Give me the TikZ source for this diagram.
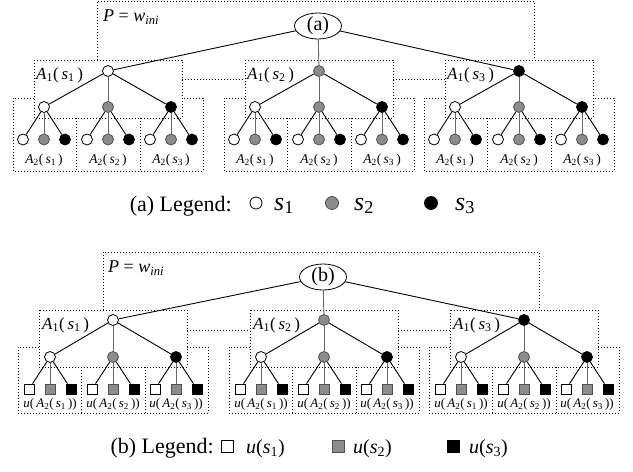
\documentclass[tikz,border=0pt]{standalone}
\usepackage{fontspec}
\setmainfont{Liberation Serif}
\usetikzlibrary{shapes.geometric}

% fills, borders and edge colours of the three states s1, s2, s3
\definecolor{col1}{RGB}{255,255,255}
\definecolor{col2}{RGB}{140,140,140}
\definecolor{col3}{RGB}{0,0,0}
\definecolor{bd1}{RGB}{0,0,0}
\definecolor{bd2}{RGB}{80,80,80}
\definecolor{bd3}{RGB}{0,0,0}
\definecolor{ln1}{RGB}{0,0,0}
\definecolor{ln2}{RGB}{105,105,105}
\definecolor{ln3}{RGB}{0,0,0}

\newcommand\lowidx[1]{\textsubscript{#1}}
\newcommand\Aone[1]{\textit{A}\lowidx{1}(\,\textit{s}\lowidx{#1}\,)}
\newcommand\Atwo[1]{\textit{A}\lowidx{2}(\,\textit{s}\lowidx{#1}\,)}
\newcommand\uAtwo[1]{\textit{u}(\,\textit{A}\lowidx{2}(\,\textit{s}\lowidx{#1}\,))}
\newcommand\Pini{\textit{P} = \textit{w}\lowidx{\textit{ini}}}

\begin{document}
\begin{tikzpicture}[x=1pt,y=-1pt,
  cnode/.style={circle, minimum size=11pt, inner sep=0pt, line width=0.8pt},
  snode/.style={rectangle, minimum size=10pt, inner sep=0pt, line width=0.9pt},
  rootnode/.style={ellipse, draw, line width=0.8pt, minimum width=47pt,
    minimum height=26pt, inner sep=0pt, font=\fontsize{20}{21}\selectfont},
  edge/.style={line width=0.9pt},
  region/.style={line width=0.9pt, dash pattern=on 0.9pt off 2.1pt},
  plabel/.style={anchor=west, inner sep=0pt, font=\fontsize{18}{20}\selectfont},
  aonelabel/.style={anchor=west, inner sep=0pt, font=\fontsize{17}{19}\selectfont},
  atwolabel/.style={inner sep=0pt, font=\fontsize{13.5}{15}\selectfont},
  ulabel/.style={inner sep=0pt, font=\fontsize{13}{15}\selectfont},
  legtext/.style={anchor=base east, inner sep=0pt, font=\fontsize{22}{24}\selectfont},
  legsym/.style={anchor=base west, inner sep=0pt, font=\fontsize{26}{28}\selectfont},
  legu/.style={anchor=base west, inner sep=0pt, font=\fontsize{20}{22}\selectfont},
]
\useasboundingbox (0,0) rectangle (633,472);

% ---------------- tree (a): circles at every level ----------------
\node[rootnode] (ra) at (318,26) {(a)};
\draw[region] (97,60) -- (97,1) -- (534,1) -- (534,60);
\draw[region] (182,79) -- (245,79);
\draw[region] (393,79) -- (445,79);
\node[plabel] (pa) at (103,17) {\Pini};

\foreach \i/\cx in {1/108,2/319,3/519}{
  % region outlines of the branch
  \draw[region] (\cx-74,60) rectangle (\cx+74,118);
  \draw[region] (\cx-74,98) -- (\cx-95,98) -- (\cx-95,171) -- (\cx+95,171)
                -- (\cx+95,98) -- (\cx+74,98);
  \draw[region] (\cx-32,118) -- (\cx-32,171);
  \draw[region] (\cx+32,118) -- (\cx+32,171);
  \node[aonelabel] (la\i) at (\cx-72,75) {\Aone{\i}};
  \node[cnode, fill=col\i, draw=bd\i] (a-\i) at (\cx,71) {};
  \draw[edge, draw=ln\i] (ra) -- (a-\i);
  \foreach \j/\dx in {1/-64,2/0,3/63}{
    \node[cnode, fill=col\j, draw=bd\j] (a-\i-\j) at (\cx+\dx,107) {};
    \draw[edge, draw=ln\j] (a-\i) -- (a-\i-\j);
    \foreach \k/\ex in {1/-21,2/0,3/21}{
      \node[cnode, fill=col\k, draw=bd\k] (a-\i-\j-\k) at (\cx+\dx+\ex,139.5) {};
      \draw[edge, draw=ln\k] (a-\i-\j) -- (a-\i-\j-\k);
    }
    \node[atwolabel] (la-\i-\j) at (\cx+\dx,160) {\Atwo{\j}};
  }
}

% legend (a)
\node[legtext] (lga) at (232,211) {(a) Legend:};
\node[cnode, fill=col1, draw=bd1, minimum size=12pt] (lca1) at (256,203) {};
\node[legsym] (lsa1) at (274,210) {\textit{s}\lowidx{1}};
\node[cnode, fill=col2, draw=bd2, minimum size=13pt] (lca2) at (332,203) {};
\node[legsym] (lsa2) at (354,210) {\textit{s}\lowidx{2}};
\node[cnode, fill=col3, draw=bd3, minimum size=13pt] (lca3) at (431,203) {};
\node[legsym] (lsa3) at (455,210) {\textit{s}\lowidx{3}};

% ---------------- tree (b): squares as leaves ----------------
\node[rootnode] (rb) at (323,277) {(b)};
\draw[region] (103,310) -- (103,252) -- (539,252) -- (539,310);
\draw[region] (187,330) -- (250,330);
\draw[region] (398,330) -- (450,330);
\node[plabel] (pb) at (108,268) {\Pini};

\foreach \i/\cx in {1/113,2/324,3/524}{
  \draw[region] (\cx-74,310) rectangle (\cx+74,367);
  \draw[region] (\cx-74,347) -- (\cx-95,347) -- (\cx-95,413) -- (\cx+95,413)
                -- (\cx+95,347) -- (\cx+74,347);
  \draw[region] (\cx-32,367) -- (\cx-32,413);
  \draw[region] (\cx+32,367) -- (\cx+32,413);
  \node[aonelabel] (lb\i) at (\cx-71,325) {\Aone{\i}};
  \node[cnode, fill=col\i, draw=bd\i] (b-\i) at (\cx,320) {};
  \draw[edge, draw=ln\i] (rb) -- (b-\i);
  \foreach \j/\dx in {1/-63,2/0,3/63}{
    \node[cnode, fill=col\j, draw=bd\j] (b-\i-\j) at (\cx+\dx,357) {};
    \draw[edge, draw=ln\j] (b-\i) -- (b-\i-\j);
    \foreach \k/\ex in {1/-21,2/0,3/21}{
      \node[snode, fill=col\k, draw=bd\k] (b-\i-\j-\k) at (\cx+\dx+\ex,389) {};
      \draw[edge, draw=ln\k] (b-\i-\j) -- (b-\i-\j-\k);
    }
    \node[ulabel] (lb-\i-\j) at (\cx+\dx,404) {\uAtwo{\j}};
  }
}

% legend (b)
\node[legtext] (lgb) at (214,453) {(b) Legend:};
\node[snode, fill=col1, draw=bd1, minimum size=12pt] (lqb1) at (227,446) {};
\node[legu] (lub1) at (246,453) {\textit{u}(\textit{s}\lowidx{1})};
\node[snode, fill=col2, draw=bd2, minimum size=12pt] (lqb2) at (338,446) {};
\node[legu] (lub2) at (353,453) {\textit{u}(\textit{s}\lowidx{2})};
\node[snode, fill=col3, draw=bd3, minimum size=12pt] (lqb3) at (453,446) {};
\node[legu] (lub3) at (469,453) {\textit{u}(\textit{s}\lowidx{3})};
\end{tikzpicture}
\end{document}
